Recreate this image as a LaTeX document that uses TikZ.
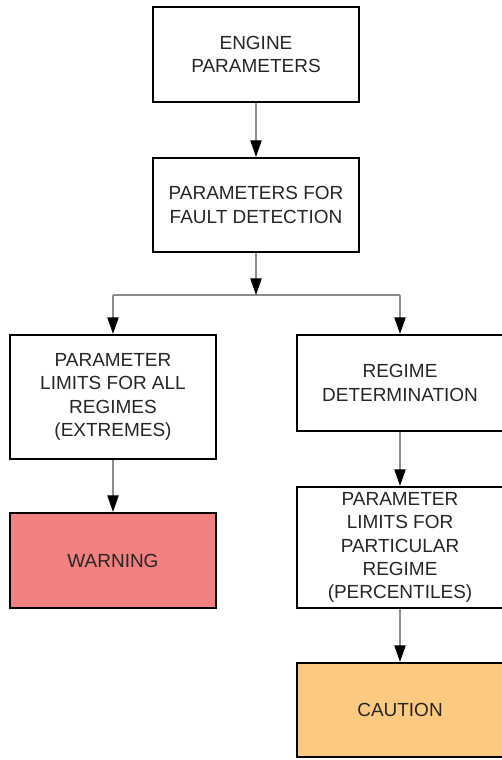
\documentclass[tikz,border=0pt]{standalone}
\usepackage{fontspec}
\setmainfont{Liberation Sans}
\usepackage{xcolor}
\usepackage{tikz}
\usetikzlibrary{arrows.meta, positioning, calc}

\definecolor{warnred}{RGB}{242,128,128}
\definecolor{cautionorange}{RGB}{251,201,128}
\definecolor{linkgray}{RGB}{140,140,140}

\tikzset{>={Triangle[length=0.5cm, width=0.34cm, color=black]}}
\tikzset{
  box/.style={draw=black, line width=1.8pt, fill=white, align=center,
    minimum width=6.18cm, inner sep=2pt, text=black!85,
    font=\fontsize{16.2}{19.8}\selectfont},
  warnbox/.style={box, fill=warnred},
  cautionbox/.style={box, fill=cautionorange},
  link/.style={->, draw=linkgray, line width=0.9pt},
  split/.style={draw=linkgray, line width=0.9pt}
}

\begin{document}
\begin{tikzpicture}
  \useasboundingbox (0,0) rectangle (15.03,-22.8);

  % main column
  \node[box, minimum height=2.85cm] (engine) at (7.68,-1.635)
    {ENGINE\\PARAMETERS};
  \node[box, minimum height=2.82cm] (faultpar) at (7.68,-6.15)
    {PARAMETERS FOR\\FAULT DETECTION};

  % left branch
  \node[box, minimum height=3.72cm] (alllimits) at (3.39,-11.91)
    {PARAMETER\\LIMITS FOR ALL\\REGIMES\\(EXTREMES)};
  \node[warnbox, minimum height=2.85cm] (warning) at (3.39,-16.815)
    {WARNING};

  % right branch
  \node[box, minimum height=2.88cm] (regime) at (12.0,-11.49)
    {REGIME\\DETERMINATION};
  \node[box, minimum height=3.63cm] (regimelimits) at (12.0,-16.425)
    {PARAMETER\\LIMITS FOR\\PARTICULAR\\REGIME\\(PERCENTILES)};
  \node[cautionbox, minimum height=2.82cm] (caution) at (12.0,-21.3)
    {CAUTION};

  % branching point
  \coordinate (fork) at (faultpar.south |- 0,-8.85);
  \coordinate (forkleft) at (alllimits.north |- fork);
  \coordinate (forkright) at (regime.north |- fork);

  \draw[link] (engine) -- (faultpar);
  \draw[split] (forkleft) -- (forkright);
  \draw[link] (faultpar) -- (fork);
  \draw[link] (forkleft) -- (alllimits);
  \draw[link] (forkright) -- (regime);
  \draw[link] (alllimits) -- (warning);
  \draw[link] (regime) -- (regimelimits);
  \draw[link] (regimelimits) -- (caution);
\end{tikzpicture}
\end{document}
